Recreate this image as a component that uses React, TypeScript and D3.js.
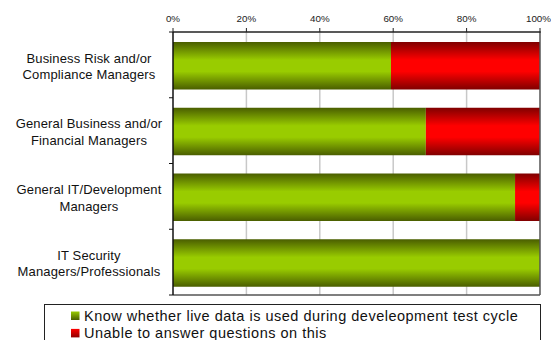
import React from "react";
import * as d3 from "d3";

// Respondent groups and the share of each answer (percent)
const categories = [
  "Business Risk and/or|Compliance Managers",
  "General Business and/or|Financial Managers",
  "General IT/Development|Managers",
  "IT Security|Managers/Professionals",
];
const knowValues = [59.4, 68.9, 93.2, 100];
const unableValues = [40.6, 31.1, 6.8, 0];
const seriesNames = [
  "Know whether live data is used during develeopment test cycle",
  "Unable to answer questions on this",
];
const tickValues = [0, 20, 40, 60, 80, 100];

const W = 551;
const H = 340;
const margin = { top: 32, right: 11, bottom: 45, left: 173 };
const FONT = "Arial, 'Liberation Sans', sans-serif";

export default function App() {
  const x = d3
    .scaleLinear()
    .domain([0, 100])
    .range([margin.left, W - margin.right]);

  const band = (H - margin.top - margin.bottom) / categories.length;
  const stack = d3
    .stack<{ know: number; unable: number }>()
    .keys(["know", "unable"])(
    knowValues.map((k, i) => ({ know: k, unable: unableValues[i] }))
  );
  const fills = ["url(#gGreen)", "url(#gRed)"];
  const legendFills = ["url(#gGreenL)", "url(#gRedL)"];

  return (
    <svg
      width={W}
      height={H}
      style={{ position: "absolute", left: 0, top: 0, background: "#fff" }}
      fontFamily={FONT}
    >
      <defs>
        <linearGradient id="gGreen" x1="0" y1="0" x2="0" y2="1">
          <stop offset="0" stopColor="#4a5e00" />
          <stop offset="0.38" stopColor="#99cc00" />
          <stop offset="0.62" stopColor="#99cc00" />
          <stop offset="1" stopColor="#4a5e00" />
        </linearGradient>
        <linearGradient id="gRed" x1="0" y1="0" x2="0" y2="1">
          <stop offset="0" stopColor="#800000" />
          <stop offset="0.38" stopColor="#ff0000" />
          <stop offset="0.62" stopColor="#ff0000" />
          <stop offset="1" stopColor="#800000" />
        </linearGradient>
        <linearGradient id="gGreenL" x1="0" y1="0" x2="0" y2="1">
          <stop offset="0" stopColor="#99cc00" />
          <stop offset="1" stopColor="#4a5e00" />
        </linearGradient>
        <linearGradient id="gRedL" x1="0" y1="0" x2="0" y2="1">
          <stop offset="0" stopColor="#ff0000" />
          <stop offset="1" stopColor="#900000" />
        </linearGradient>
      </defs>

      {/* vertical gridlines */}
      {tickValues.slice(1, -1).map((t) => (
        <line
          key={t}
          x1={x(t)}
          x2={x(t)}
          y1={margin.top}
          y2={H - margin.bottom}
          stroke="#c8c8c8"
          strokeWidth={1.5}
        />
      ))}

      {/* stacked bars */}
      {stack.map((s, si) =>
        s.map((d, i) =>
          d[1] - d[0] > 0 ? (
            <rect
              key={`${si}-${i}`}
              x={x(d[0])}
              y={margin.top + band * i + 10}
              width={x(d[1]) - x(d[0])}
              height={47.5}
              fill={fills[si]}
            />
          ) : null
        )
      )}

      {/* frame: right and bottom edges */}
      <line
        x1={x(100)}
        x2={x(100)}
        y1={margin.top}
        y2={H - margin.bottom}
        stroke="#555"
        strokeWidth={1.5}
      />
      <line
        x1={x(0)}
        x2={x(100)}
        y1={H - margin.bottom}
        y2={H - margin.bottom}
        stroke="#555"
        strokeWidth={1.5}
      />

      {/* top axis */}
      <line
        x1={x(0)}
        x2={x(100) + 0.75}
        y1={margin.top}
        y2={margin.top}
        stroke="#222"
        strokeWidth={1.5}
      />
      {tickValues.map((t) => (
        <g key={t}>
          <line
            x1={x(t)}
            x2={x(t)}
            y1={margin.top - 4}
            y2={margin.top}
            stroke="#222"
          />
          <text
            x={t === 100 ? x(t) - 1.5 : x(t)}
            y={22}
            textAnchor="middle"
            fontSize={9.8}
            fill="#222"
          >
            {t}%
          </text>
        </g>
      ))}

      {/* left axis */}
      <line
        x1={x(0)}
        x2={x(0)}
        y1={margin.top}
        y2={H - margin.bottom}
        stroke="#111"
        strokeWidth={1.5}
      />
      {d3.range(categories.length + 1).map((i) => (
        <line
          key={i}
          x1={x(0) - 4}
          x2={x(0)}
          y1={margin.top + band * i}
          y2={margin.top + band * i}
          stroke="#111"
        />
      ))}
      {categories.map((c, i) => {
        const lines = c.split("|");
        const cy = margin.top + band * i + band / 2 + 1.5;
        return (
          <text
            key={c}
            x={89}
            textAnchor="middle"
            fontSize={13}
            letterSpacing={0.15}
            fill="#111"
          >
            {lines.map((l, li) => (
              <tspan
                key={li}
                x={89}
                y={cy + (li - (lines.length - 1) / 2) * 16.7 + 4.5}
              >
                {l}
              </tspan>
            ))}
          </text>
        );
      })}

      {/* legend */}
      <rect
        x={44.5}
        y={304.5}
        width={496}
        height={60}
        fill="#fff"
        stroke="#222"
        strokeWidth={1}
      />
      {seriesNames.map((n, i) => (
        <g key={n}>
          <rect
            x={71}
            y={311.5 + i * 17.4}
            width={8.5}
            height={8.5}
            fill={legendFills[i]}
          />
          <text
            x={84}
            y={320.7 + i * 17.4}
            fontSize={14.5}
            letterSpacing={0.5}
            fill="#111"
          >
            {n}
          </text>
        </g>
      ))}
    </svg>
  );
}
